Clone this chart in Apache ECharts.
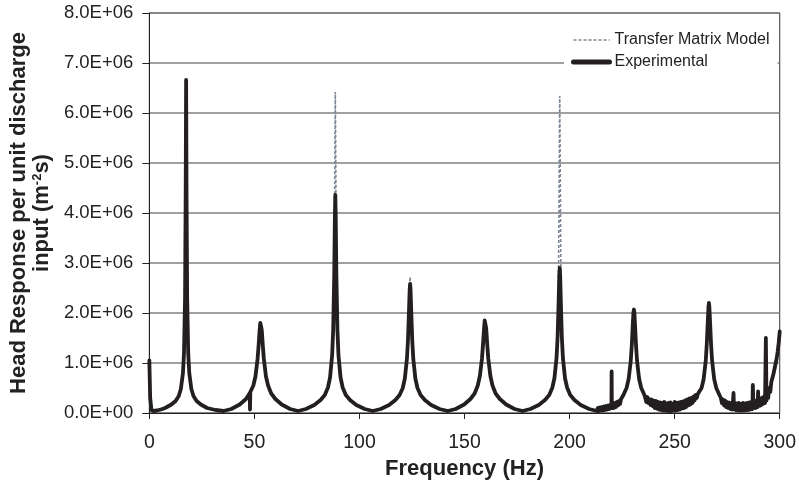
<!DOCTYPE html>
<html>
<head>
<meta charset="utf-8">
<script src="https://cdn.jsdelivr.net/npm/echarts@6/dist/echarts.min.js"></script>
<style>
html,body{margin:0;padding:0;background:#fff;}
#chart{width:799px;height:487px;}
</style>
</head>
<body>
<div id="chart"></div>
<script>
// Tick labels
const yTickLabels = ['0.0E+00','1.0E+06','2.0E+06','3.0E+06','4.0E+06','5.0E+06','6.0E+06','7.0E+06','8.0E+06'];
const xTicks = [0, 50, 100, 150, 200, 250, 300];

// Experimental response [frequency Hz, value in units of 1E+06]
const experimental = [
  [0,1.05],[0.4,0.3],[1,0.06],[2,0.04],[3.5,0.05],[5.5,0.07],[7.5,0.1],[10.5,0.17],[12.5,0.24],[14,0.34],[15,0.48],[16,0.8],[16.5,1.2],[17,2.3],[17.3,4.4],[17.5,6.66],[17.7,4.4],[18,2.3],[18.5,1.2],[19,0.8],[20,0.48],[21,0.34],[22.5,0.24],[24.5,0.17],[27.5,0.1],[31.5,0.06],[35.3,0.04],
  [39,0.08],[43,0.17],[46,0.28],[47.8,0.4],[47.9,0.07],[48.05,0.42],[49.5,0.55],[50.5,0.73],[51.5,1.08],[52,1.35],[52.5,1.66],[52.8,1.8],[53,1.83],[53.2,1.8],[53.5,1.66],[54,1.35],[54.5,1.08],[55.5,0.73],[56.5,0.55],[58,0.39],[60,0.28],[63,0.17],[67,0.08],[70.8,0.04],
  [74.5,0.08],[78.5,0.16],[81.5,0.26],[83.5,0.36],[85,0.51],[86,0.71],[87,1.16],[87.5,1.67],[88,2.78],[88.3,3.93],[88.5,4.36],[88.7,3.93],[89,2.78],[89.5,1.67],[90,1.16],[91,0.71],[92,0.51],[93.5,0.36],[95.5,0.26],[98.5,0.16],[102.5,0.08],[106.3,0.04],
  [110.1,0.08],[114.1,0.16],[117.1,0.26],[119.1,0.36],[120.6,0.5],[121.6,0.69],[122.6,1.09],[123.1,1.47],[123.6,2.09],[123.9,2.47],[124.1,2.58],[124.3,2.47],[124.6,2.09],[125.1,1.47],[125.6,1.09],[126.6,0.69],[127.6,0.5],[129.1,0.36],[131.1,0.26],[134.1,0.16],[138.1,0.08],[142,0.04],
  [145.8,0.08],[149.8,0.17],[152.8,0.28],[154.8,0.39],[156.3,0.55],[157.3,0.74],[158.3,1.09],[158.8,1.37],[159.3,1.7],[159.6,1.85],[159.8,1.88],[160,1.85],[160.3,1.7],[160.8,1.37],[161.3,1.09],[162.3,0.74],[163.3,0.55],[164.8,0.39],[166.8,0.28],[169.8,0.17],[173.8,0.08],[177.6,0.04],
  [181.3,0.08],[185.3,0.16],[188.3,0.26],[190.3,0.36],[191.8,0.51],[192.8,0.7],[193.8,1.11],[194.3,1.53],[194.8,2.26],[195.1,2.76],[195.3,2.9],[195.5,2.76],[195.8,2.26],[196.3,1.53],[196.8,1.11],[197.8,0.7],[198.8,0.51],[200.3,0.36],[202.3,0.26],[205.3,0.16],[209.3,0.08],[213,0.04],
  [213.5,0.1],[214,0.04],[214.5,0.11],[215,0.05],[215.5,0.12],[216,0.05],[216.5,0.13],[217,0.06],[217.5,0.14],[218,0.07],[218.5,0.15],[219,0.08],[219.5,0.16],[219.9,0.1],[220,0.83],[220.1,0.1],[220.5,0.18],[221,0.1],[221.5,0.2],[222,0.12],[222.5,0.22],[223,0.15],[223.5,0.24],[224,0.18],[224.5,0.28],[225,0.24],[225.6,0.36],
  [227.1,0.5],[228.1,0.68],[229.1,1.04],[229.6,1.36],[230.1,1.8],[230.4,2.02],[230.6,2.07],[230.8,2.02],[231.1,1.8],[231.6,1.36],[232.1,1.04],[233.1,0.68],[234.1,0.5],[235.6,0.36],
  [236,0.3],[236.5,0.22],[237,0.32],[237.5,0.2],[238,0.28],[238.5,0.16],[239,0.27],[239.5,0.14],[240,0.25],[240.5,0.1],[241,0.24],[241.5,0.09],[242,0.22],[242.5,0.07],[243,0.21],[243.5,0.06],[244,0.2],[244.5,0.05],[245,0.22],[245.5,0.05],[246,0.19],[246.5,0.04],[247,0.2],[247.5,0.04],[248,0.21],[248.5,0.04],[249,0.18],[249.5,0.05],[250,0.22],[250.5,0.05],[251,0.2],[251.5,0.06],[252,0.21],[252.5,0.07],[253,0.22],[253.5,0.09],[254,0.23],[254.5,0.1],[255,0.25],[255.5,0.12],[256,0.27],[256.5,0.15],[257,0.29],[257.5,0.17],[258,0.3],[258.5,0.2],[259,0.33],[259.5,0.25],[260,0.36],[260.5,0.3],[261,0.38],
  [262.8,0.5],[263.8,0.68],[264.8,1.05],[265.3,1.39],[265.8,1.87],[266.1,2.13],[266.3,2.2],[266.5,2.13],[266.8,1.87],[267.3,1.39],[267.8,1.05],[268.8,0.68],[269.8,0.5],[271.3,0.36],
  [272,0.3],[272.5,0.2],[273,0.27],[273.5,0.15],[274,0.25],[274.5,0.12],[275,0.22],[275.5,0.1],[276,0.21],[276.5,0.08],[277,0.2],[277.5,0.07],[278,0.4],[278.3,0.08],[278.5,0.2],[279,0.06],[279.5,0.19],[280,0.05],[280.5,0.2],[281,0.05],[281.5,0.18],[282,0.05],[282.5,0.2],[283,0.05],[283.5,0.19],[284,0.06],[284.5,0.2],[285,0.06],[285.5,0.21],[286,0.07],[286.5,0.22],[287,0.08],[287.2,0.56],[287.5,0.1],[288,0.24],[288.5,0.1],[289,0.25],[289.5,0.12],[289.7,0.43],[290,0.14],[290.5,0.27],[291,0.15],[291.5,0.3],[292,0.18],[292.5,0.33],[293,0.2],[293.4,1.5],[293.7,0.25],[294,0.42],[294.5,0.3],[295,0.5],[295.5,0.42],[296,0.62],[296.5,0.58],[297,0.78],[297.5,0.8],[298,0.98],[298.5,1.08],[299,1.22],[299.5,1.4],[300,1.63]
];

// Transfer Matrix Model response [frequency Hz, value in units of 1E+06]
const model = [
  [0,1.0],[0.4,0.3],[1,0.06],[2,0.04],[3.5,0.05],[5.5,0.07],[7.5,0.1],[10.5,0.17],[12.5,0.24],[14,0.34],[15,0.48],[16,0.8],[16.5,1.2],[17,2.3],[17.3,4.4],[17.5,6.6],[17.7,4.4],[18,2.3],[18.5,1.2],[19,0.8],[20,0.48],[21,0.34],[22.5,0.24],[24.5,0.17],[27.5,0.1],[31.5,0.06],[35.3,0.04],
  [39,0.08],[43,0.17],[46,0.28],[49.5,0.55],[50.5,0.73],[51.5,1.08],[52,1.35],[52.5,1.66],[52.8,1.8],[53,1.83],[53.2,1.8],[53.5,1.66],[54,1.35],[54.5,1.08],[55.5,0.73],[56.5,0.55],[58,0.39],[60,0.28],[63,0.17],[67,0.08],[70.8,0.04],
  [74.5,0.08],[78.5,0.16],[81.5,0.26],[83.5,0.36],[85,0.51],[86,0.71],[87,1.16],[87.5,1.73],[88,3.14],[88.3,5.22],[88.5,6.42],[88.7,5.22],[89,3.14],[89.5,1.73],[90,1.16],[91,0.71],[92,0.51],[93.5,0.36],[95.5,0.26],[98.5,0.16],[102.5,0.08],[106.3,0.04],
  [110.1,0.08],[114.1,0.16],[117.1,0.26],[119.1,0.36],[120.6,0.5],[121.6,0.69],[122.6,1.09],[123.1,1.5],[123.6,2.17],[123.9,2.6],[124.1,2.72],[124.3,2.6],[124.6,2.17],[125.1,1.5],[125.6,1.09],[126.6,0.69],[127.6,0.5],[129.1,0.36],[131.1,0.26],[134.1,0.16],[138.1,0.08],[142,0.04],
  [145.8,0.08],[149.8,0.17],[152.8,0.28],[154.8,0.39],[156.3,0.55],[157.3,0.74],[158.3,1.09],[158.8,1.37],[159.3,1.7],[159.6,1.85],[159.8,1.88],[160,1.85],[160.3,1.7],[160.8,1.37],[161.3,1.09],[162.3,0.74],[163.3,0.55],[164.8,0.39],[166.8,0.28],[169.8,0.17],[173.8,0.08],[177.6,0.04],
  [181.3,0.08],[185.3,0.16],[188.3,0.26],[190.3,0.36],[191.8,0.51],[192.8,0.7],[193.8,1.18],[194.3,1.73],[194.8,3.13],[195.1,5.18],[195.3,6.34],[195.5,5.18],[195.8,3.13],[196.3,1.73],[196.8,1.18],[197.8,0.7],[198.8,0.51],[200.3,0.36],[202.3,0.26],[205.3,0.16],[209.3,0.08],[213,0.04],
  [217,0.08],[221,0.16],[224,0.26],[225.6,0.36],[227.1,0.5],[228.1,0.68],[229.1,1.04],[229.6,1.36],[230.1,1.8],[230.4,2.02],[230.6,2.07],[230.8,2.02],[231.1,1.8],[231.6,1.36],[232.1,1.04],[233.1,0.68],[234.1,0.5],[235.6,0.36],[237.6,0.26],[240.6,0.16],[244.6,0.08],[248.5,0.04],
  [252.3,0.08],[256.3,0.16],[259.3,0.26],[261.3,0.36],[262.8,0.5],[263.8,0.68],[264.8,1.05],[265.3,1.39],[265.8,1.87],[266.1,2.13],[266.3,2.2],[266.5,2.13],[266.8,1.87],[267.3,1.39],[267.8,1.05],[268.8,0.68],[269.8,0.5],[271.3,0.36],[273.3,0.26],[276.3,0.16],[280.3,0.08],[284,0.04],
  [288,0.1],[292,0.25],[295,0.45],[297,0.7],[298.5,1.0],[300,1.6]
];

const chart = echarts.init(document.getElementById('chart'), null, {renderer: 'canvas'});
const FONT = '"Liberation Sans", Arial, sans-serif';

chart.setOption({
  animation: false,
  backgroundColor: '#ffffff',
  grid: {
    left: 148, right: 15, top: 13, bottom: 74,
    show: true, borderColor: '#333', borderWidth: 1, backgroundColor: 'transparent'
  },
  legend: {
    orient: 'vertical',
    left: 564, top: 30,
    padding: [2, 8, 2, 7],
    itemGap: 6,
    itemWidth: 36, itemHeight: 10,
    backgroundColor: '#ffffff',
    itemStyle: {opacity: 0},
    textStyle: {fontFamily: FONT, fontSize: 16, color: '#222'},
    data: [
      {name: 'Transfer Matrix Model', lineStyle: {width: 1.6}},
      {name: 'Experimental', lineStyle: {width: 5}}
    ]
  },
  xAxis: {
    type: 'value', min: 0, max: 300, interval: 50,
    name: 'Frequency (Hz)', nameLocation: 'middle', nameGap: 43,
    nameTextStyle: {fontFamily: FONT, fontSize: 22, fontWeight: 'bold', color: '#222'},
    axisLine: {show: true, lineStyle: {color: '#222', width: 1}},
    axisTick: {show: true, inside: false, length: 6, lineStyle: {color: '#222'}},
    axisLabel: {fontFamily: FONT, fontSize: 19.5, color: '#222', margin: 20,
      formatter: v => xTicks.indexOf(v) >= 0 ? String(v) : ''},
    splitLine: {show: false}
  },
  yAxis: {
    type: 'value', min: 0, max: 8, interval: 1,
    name: '{b|Head Response per unit discharge}\n{b|input (m}{sup|-2}{b|s)}',
    nameLocation: 'middle', nameGap: 83, nameRotate: 90,
    nameTextStyle: {
      fontFamily: FONT, fontSize: 22, fontWeight: 'bold', color: '#222', align: 'center',
      rich: {
        b: {fontFamily: FONT, fontSize: 22, fontWeight: 'bold', color: '#222', lineHeight: 23},
        sup: {fontFamily: FONT, fontSize: 13, fontWeight: 'bold', color: '#222', verticalAlign: 'top', lineHeight: 23, padding: [0, 0, 9, 0]}
      }
    },
    axisLine: {show: true, lineStyle: {color: '#222', width: 1}},
    axisTick: {show: true, inside: false, length: 7, lineStyle: {color: '#222'}},
    axisLabel: {fontFamily: FONT, fontSize: 18.5, color: '#222', margin: 16,
      formatter: v => yTickLabels[Math.round(v)]},
    splitLine: {show: true, lineStyle: {color: '#808080', width: 1.5}}
  },
  series: [
    {
      name: 'Transfer Matrix Model', type: 'line', data: model,
      showSymbol: false, symbol: 'none', z: 2,
      lineStyle: {color: '#7d8796', width: 1.6, type: [3, 2]},
      itemStyle: {color: '#7d8796'}
    },
    {
      name: 'Experimental', type: 'line', data: experimental,
      showSymbol: false, symbol: 'none', z: 3,
      lineStyle: {color: '#231f20', width: 3.8, join: 'round', cap: 'round'},
      itemStyle: {color: '#231f20'}
    }
  ]
});
</script>
</body>
</html>
